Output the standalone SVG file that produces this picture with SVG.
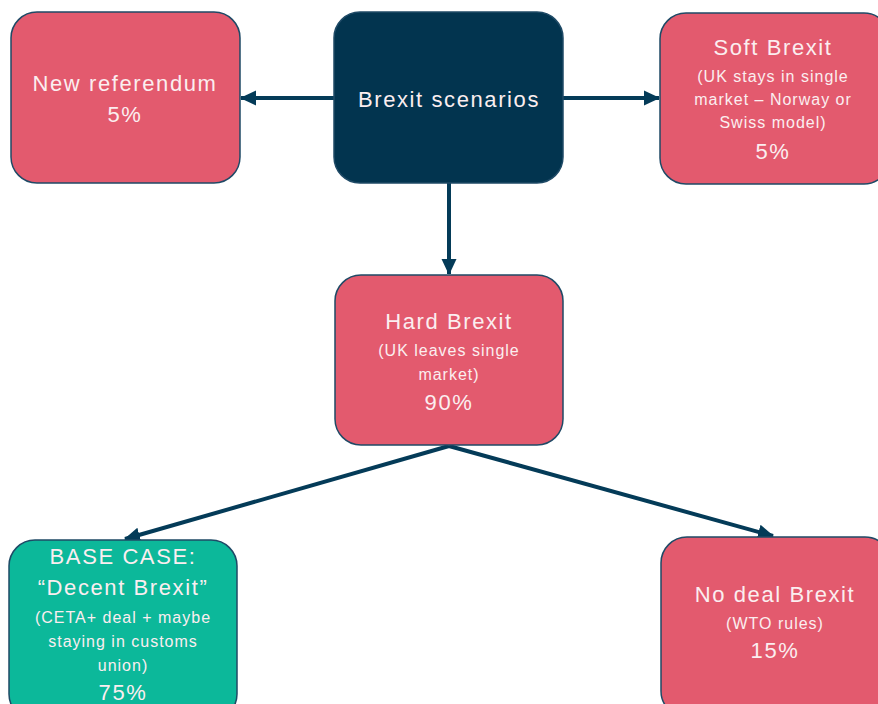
<svg xmlns="http://www.w3.org/2000/svg" width="878" height="704" viewBox="0 0 878 704">
<defs>
<marker id="ah" markerWidth="16" markerHeight="16" refX="15" refY="8" orient="auto" markerUnits="userSpaceOnUse" viewBox="0 0 16 16">
<path d="M0,0.5 L16,8 L0,15.5 z" fill="#043b58"/>
</marker>
<style>
.box{stroke:#1f4a66;stroke-width:1.5}
.pink{fill:#e35a6e}
.navy{fill:#02344f}
.teal{fill:#0cb89a}
text{font-family:"Liberation Sans",Arial,sans-serif;fill:#fbeef0;text-anchor:middle}
.t{font-size:22px;letter-spacing:1.6px}
.s{font-size:16px;letter-spacing:1px}
.c{stroke:#043b58;stroke-width:4;fill:none;marker-end:url(#ah)}
</style>
</defs>
<rect width="878" height="704" fill="#ffffff"/>
<g id="connectors">
<line class="c" x1="334" y1="98" x2="241" y2="98"/>
<line class="c" x1="563" y1="98" x2="659" y2="98"/>
<line class="c" x1="449" y1="183" x2="449" y2="274"/>
<line class="c" x1="449" y1="446" x2="125" y2="539"/>
<line class="c" x1="449" y1="446" x2="773" y2="536"/>
</g>
<g id="new-referendum">
<rect class="box pink" x="11" y="12" width="229" height="171" rx="26"/>
<text class="t" x="125" y="91">New referendum</text>
<text class="t" x="125" y="122">5%</text>
</g>
<g id="brexit-scenarios">
<rect class="box navy" x="334" y="12" width="229" height="171" rx="26"/>
<text class="t" x="449" y="107">Brexit scenarios</text>
</g>
<g id="soft-brexit">
<rect class="box pink" x="660" y="13" width="230" height="171" rx="26"/>
<text class="t" x="773" y="55">Soft Brexit</text>
<text class="s" x="773" y="82">(UK stays in single</text>
<text class="s" x="773" y="105">market – Norway or</text>
<text class="s" x="773" y="128">Swiss model)</text>
<text class="t" x="773" y="159">5%</text>
</g>
<g id="hard-brexit">
<rect class="box pink" x="335" y="275" width="228" height="170" rx="26"/>
<text class="t" x="449" y="329">Hard Brexit</text>
<text class="s" x="449" y="356">(UK leaves single</text>
<text class="s" x="449" y="380">market)</text>
<text class="t" x="449" y="410">90%</text>
</g>
<g id="base-case">
<rect class="box teal" x="9" y="540" width="228" height="180" rx="26"/>
<text class="t" x="123" y="564">BASE CASE:</text>
<text class="t" x="123" y="595">“Decent Brexit”</text>
<text class="s" x="123" y="623">(CETA+ deal + maybe</text>
<text class="s" x="123" y="647">staying in customs</text>
<text class="s" x="123" y="671">union)</text>
<text class="t" x="123" y="700">75%</text>
</g>
<g id="no-deal-brexit">
<rect class="box pink" x="661" y="537" width="230" height="180" rx="26"/>
<text class="t" x="775" y="602">No deal Brexit</text>
<text class="s" x="775" y="629">(WTO rules)</text>
<text class="t" x="775" y="658">15%</text>
</g>
</svg>
